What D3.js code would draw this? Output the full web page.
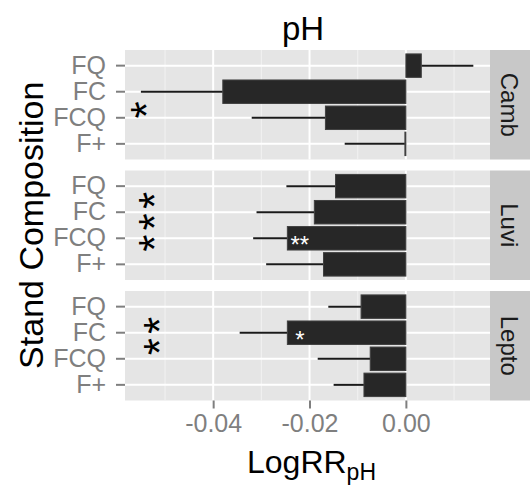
<!DOCTYPE html>
<html>
<head>
<meta charset="utf-8">
<script src="https://cdn.jsdelivr.net/npm/d3@7"></script>
<style>
  body { margin: 0; background: #fff; }
  svg { display: block; font-family: "Liberation Sans", Arial, sans-serif; }
</style>
</head>
<body>
<div id="chart"></div>
<script>
// data
const panels = ['Camb', 'Luvi', 'Lepto'];
const compositions = ['FQ', 'FC', 'FCQ', 'F+'];

const cambMean = [0.0032, -0.0380, -0.0167, -0.0002];
const cambErr = [0.0140, -0.0550, -0.0320, -0.0127];
const luviMean = [-0.0146, -0.0190, -0.0246, -0.0171];
const luviErr = [-0.0248, -0.0310, -0.0317, -0.0290];
const leptoMean = [-0.0093, -0.0246, -0.0074, -0.0087];
const leptoErr = [-0.0161, -0.0345, -0.0183, -0.0150];

const xTicks = [-0.04, -0.02, 0.00];
const xMinorTicks = [-0.05, -0.03, -0.01, 0.01];

// significance stars at left of each panel (stacked vertically)
const sigLabels = ['*', '***', '**'];
const sigX = [-0.0560, -0.0545, -0.0534];
const sigRow = [1.70, 1.37, 1.13];

// white stars inside bars
const innerPanels = ['Luvi', 'Lepto'];
const innerComps = ['FCQ', 'FC'];
const innerLabels = ['**', '*'];
const innerX = -0.022;

const series = {
    Camb: { mean: cambMean, err: cambErr },
    Luvi: { mean: luviMean, err: luviErr },
    Lepto: { mean: leptoMean, err: leptoErr }
};

const W = 530, H = 492;
const panelLeft = 125, panelRight = 490, stripRight = 530;
const panelTop = 50, panelH = 109.5, panelGap = 11;
const font = '"Liberation Sans", Arial, sans-serif';

const svg = d3.select('#chart').append('svg')
    .attr('width', W)
    .attr('height', H);

const x = d3.scaleLinear()
    .domain([-0.0583, 0.01746])
    .range([panelLeft, panelRight]);

const y = d3.scaleBand()
    .domain(compositions)
    .range([0, panelH])
    .paddingInner(0.1)
    .paddingOuter(0.15);

// continuous row position (0 = first category)
const rowY = r => y(compositions[0]) + y.bandwidth() / 2 + r * y.step();

panels.forEach((name, pi) => {
    const top = panelTop + pi * (panelH + panelGap);
    const g = svg.append('g').attr('transform', `translate(0,${top})`);
    const d = series[name];

    g.append('rect')
        .attr('x', panelLeft).attr('y', 0)
        .attr('width', panelRight - panelLeft).attr('height', panelH)
        .attr('fill', '#e5e5e5');

    // minor grid
    g.selectAll('.minor').data(xMinorTicks).enter().append('line')
        .attr('x1', v => x(v)).attr('x2', v => x(v))
        .attr('y1', 0).attr('y2', panelH)
        .attr('stroke', '#f2f2f2').attr('stroke-width', 1);

    // major grid
    g.selectAll('.vmajor').data(xTicks).enter().append('line')
        .attr('x1', v => x(v)).attr('x2', v => x(v))
        .attr('y1', 0).attr('y2', panelH)
        .attr('stroke', '#fff').attr('stroke-width', 2);

    g.selectAll('.hmajor').data(compositions).enter().append('line')
        .attr('x1', panelLeft).attr('x2', panelRight)
        .attr('y1', c => y(c) + y.bandwidth() / 2)
        .attr('y2', c => y(c) + y.bandwidth() / 2)
        .attr('stroke', '#fff').attr('stroke-width', 2);

    // error bars (from mean outwards)
    g.selectAll('.err').data(compositions).enter().append('line')
        .attr('x1', (c, i) => x(d.mean[i]))
        .attr('x2', (c, i) => x(d.err[i]))
        .attr('y1', c => y(c) + y.bandwidth() / 2)
        .attr('y2', c => y(c) + y.bandwidth() / 2)
        .attr('stroke', '#1a1a1a').attr('stroke-width', 2);

    // bars
    g.selectAll('.bar').data(compositions).enter().append('rect')
        .attr('x', (c, i) => Math.min(x(0), x(d.mean[i])))
        .attr('width', (c, i) => Math.abs(x(d.mean[i]) - x(0)))
        .attr('y', c => y(c))
        .attr('height', y.bandwidth())
        .attr('fill', '#272727')
        .attr('stroke', '#404040')
        .attr('stroke-width', 1);

    // inner white stars
    innerPanels.forEach((p, k) => {
        if (p !== name) return;
        g.append('text')
            .attr('x', x(innerX))
            .attr('y', y(innerComps[k]) + y.bandwidth() / 2)
            .attr('dy', '0.62em')
            .attr('text-anchor', 'middle')
            .attr('fill', '#fff')
            .style('font-size', '24px')
            .text(innerLabels[k]);
    });

    // significance stars, stacked
    const stars = sigLabels[pi].split('');
    const spacing = 0.82;
    stars.forEach((s, k) => {
        const r = sigRow[pi] + (k - (stars.length - 1) / 2) * spacing;
        g.append('g')
            .attr('transform', `translate(${x(sigX[pi])},${rowY(r)}) rotate(-90)`)
            .append('text')
            .attr('text-anchor', 'middle')
            .attr('dy', '0.6em')
            .attr('fill', '#000')
            .style('font-size', '44px')
            .text(s);
    });

    // y axis
    const yAxis = g.append('g')
        .attr('transform', `translate(${panelLeft},0)`)
        .call(d3.axisLeft(y).tickSize(9).tickPadding(10));
    yAxis.select('.domain').remove();
    yAxis.selectAll('line').attr('stroke', '#7f7f7f').attr('stroke-width', 2);
    yAxis.selectAll('text')
        .attr('fill', '#7f7f7f')
        .style('font-size', '25px')
        .style('font-family', font);

    // strip
    g.append('rect')
        .attr('x', panelRight).attr('y', 0)
        .attr('width', stripRight - panelRight).attr('height', panelH)
        .attr('fill', '#c8c8c8');
    g.append('text')
        .attr('transform', `translate(${(panelRight + stripRight) / 2 - 1},${panelH / 2}) rotate(90)`)
        .attr('text-anchor', 'middle')
        .attr('dy', '0.35em')
        .attr('fill', '#1a1a1a')
        .style('font-size', '24px')
        .text(name);
});

// x axis
const bottom = panelTop + 3 * panelH + 2 * panelGap;
const xAxis = svg.append('g')
    .attr('transform', `translate(0,${bottom})`)
    .call(d3.axisBottom(x).tickValues(xTicks).tickSize(8).tickPadding(6)
        .tickFormat(v => v.toFixed(2)));
xAxis.select('.domain').remove();
xAxis.selectAll('line').attr('stroke', '#7f7f7f').attr('stroke-width', 2);
xAxis.selectAll('text')
    .attr('fill', '#7f7f7f')
    .style('font-size', '25px')
    .style('font-family', font);

// titles
svg.append('text')
    .attr('x', 303).attr('y', 40)
    .attr('text-anchor', 'middle')
    .style('font-size', '33px')
    .text('pH');

const xt = svg.append('text')
    .attr('x', 247).attr('y', 473)
    .style('font-size', '32px');
xt.append('tspan').text('LogRR');
xt.append('tspan').attr('dy', 7).style('font-size', '23px').text('pH');

svg.append('text')
    .attr('transform', `translate(43,${(panelTop + bottom) / 2}) rotate(-90)`)
    .attr('text-anchor', 'middle')
    .style('font-size', '34px')
    .text('Stand Composition');
</script>
</body>
</html>
